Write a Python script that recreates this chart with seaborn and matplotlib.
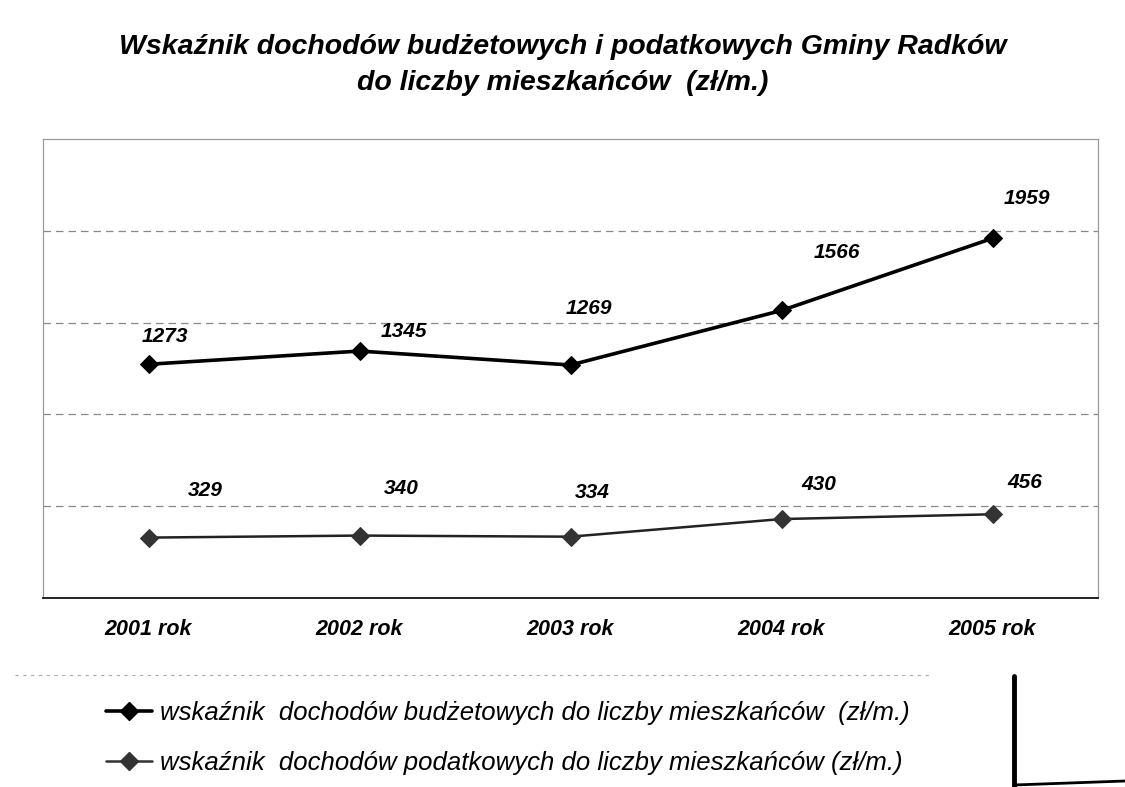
import numpy as np
import pandas as pd
import matplotlib
matplotlib.use('Agg')
import matplotlib.pyplot as plt
from matplotlib.lines import Line2D
import seaborn as sns

# data
years = ['2001 rok', '2002 rok', '2003 rok', '2004 rok', '2005 rok']
budget = [1273, 1345, 1269, 1566, 1959]
tax = [329, 340, 334, 430, 456]
budget_label = 'wskaźnik  dochodów budżetowych do liczby mieszkańców  (zł/m.)'
tax_label = 'wskaźnik  dochodów podatkowych do liczby mieszkańców (zł/m.)'
title = 'Wskaźnik dochodów budżetowych i podatkowych Gminy Radków\ndo liczby mieszkańców  (zł/m.)'

# label offsets (points) relative to each marker
budget_off = [(12, 20), (32, 14), (13, 41), (40, 42), (25, 29)]
tax_off = [(41, 34), (30, 34), (16, 32), (27, 25), (23, 23)]

sns.set_style('white')
plt.rcParams['font.family'] = ['Liberation Sans', 'DejaVu Sans']
plt.rcParams['text.color'] = 'black'
plt.rcParams['xtick.color'] = 'black'

df = pd.DataFrame({
    'x': list(range(len(years))) * 2,
    'value': budget + tax,
    'series': [budget_label] * len(years) + [tax_label] * len(years),
})

fig = plt.figure(figsize=(11.25, 7.87), dpi=100)
ax = fig.add_axes([43 / 1125, 1 - 598 / 787, 1055 / 1125, 459 / 787])

sns.lineplot(data=df[df.series == budget_label], x='x', y='value', ax=ax,
             color='black', lw=2.6, marker='D', markersize=9,
             markeredgecolor='black', label=budget_label, legend=False)
sns.lineplot(data=df[df.series == tax_label], x='x', y='value', ax=ax,
             color='#222222', lw=1.8, marker='D', markersize=9,
             markerfacecolor='#333333', markeredgecolor='#333333',
             label=tax_label, legend=False)

for i, v in enumerate(budget):
    ax.annotate(str(v), (i, v), xytext=budget_off[i], textcoords='offset points',
                ha='center', va='center', fontsize=15, fontweight='bold',
                fontstyle='italic', color='black')
for i, v in enumerate(tax):
    ax.annotate(str(v), (i, v), xytext=tax_off[i], textcoords='offset points',
                ha='center', va='center', fontsize=15, fontweight='bold',
                fontstyle='italic', color='black')

ax.set_xlim(-0.5, len(years) - 0.5)
ax.set_ylim(0, 2500)
ax.set_yticks([500, 1000, 1500, 2000])
ax.set_yticklabels([])
ax.set_xticks(range(len(years)))
ax.set_xticklabels(years, fontsize=15.5, fontweight='bold', fontstyle='italic',
                   color='black')
ax.tick_params(axis='x', length=0, pad=15)
ax.tick_params(axis='y', length=0)
ax.set_xlabel('')
ax.set_ylabel('')
ax.grid(axis='y', color='#888888', lw=0.9, ls=(0, (6, 4)))
for side in ['left', 'top', 'right']:
    ax.spines[side].set_color('#999999')
    ax.spines[side].set_linestyle((0, (2, 1)))
    ax.spines[side].set_linewidth(0.9)
ax.spines['bottom'].set_color('#222222')
ax.spines['bottom'].set_linewidth(1.4)

fig.text(0.5, 1 - 65 / 787, title, ha='center', va='center', fontsize=20.5,
         fontweight='bold', fontstyle='italic', linespacing=1.45, color='black')

handles = [
    Line2D([], [], color='black', lw=2.6, marker='D', markersize=9),
    Line2D([], [], color='#333333', lw=1.8, marker='D', markersize=9),
]
fig.legend(handles, [budget_label, tax_label], loc='center left',
           bbox_to_anchor=(93 / 1125, 1 - 738 / 787), frameon=False,
           prop={'size': 18.5, 'style': 'italic'}, handlelength=1.8,
           handletextpad=0.3, labelspacing=1.0, borderpad=0,
           labelcolor='black')

# legend box edges from the scan
fig.add_artist(Line2D([15 / 1125, 930 / 1125], [1 - 675 / 787] * 2,
                      color='#aaaaaa', lw=0.8, ls=(0, (3, 4))))
fig.add_artist(Line2D([1014 / 1125] * 2, [1 - 676 / 787, 0], color='black', lw=3.5))
fig.add_artist(Line2D([1014 / 1125, 1], [2 / 787, 6 / 787], color='black', lw=2))

fig.savefig('out.png', dpi=100)
